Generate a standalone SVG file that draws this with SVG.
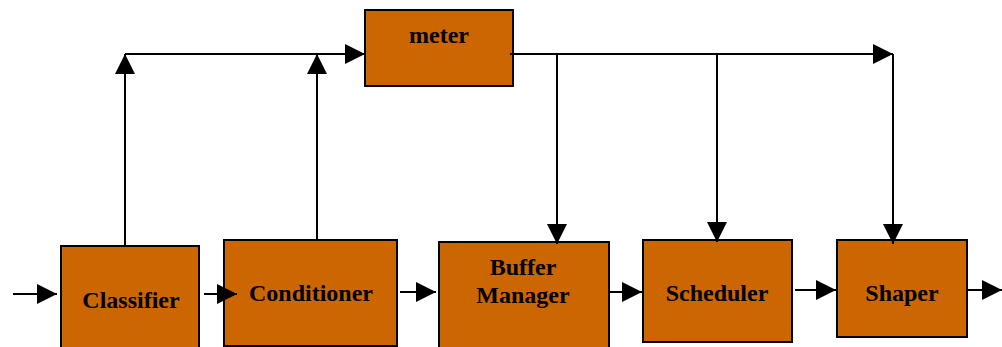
<svg xmlns="http://www.w3.org/2000/svg" width="1002" height="347" viewBox="0 0 1002 347">
  <style>
    .box { fill: #CC6600; stroke: #000000; stroke-width: 2; }
    .lbl { font-family: "Liberation Serif", "Times New Roman", serif; font-weight: bold; font-size: 24px; fill: #000000; text-anchor: middle; }
    .wire { fill: none; stroke: #000000; stroke-width: 2; }
  </style>
  <defs>
    <marker id="arrow" markerUnits="userSpaceOnUse" markerWidth="20" markerHeight="20" refX="20" refY="10" orient="auto">
      <path d="M0,0 L20,10 L0,20 Z" fill="#000000"/>
    </marker>
  </defs>

  <!-- processing blocks -->
  <g id="meter">
    <rect class="box" x="365" y="10" width="148" height="76"/>
    <text class="lbl" x="439" y="43">meter</text>
  </g>
  <g id="classifier">
    <rect class="box" x="61" y="246" width="138" height="106"/>
    <text class="lbl" x="131" y="308">Classifier</text>
  </g>
  <g id="conditioner">
    <rect class="box" x="224" y="240" width="173" height="106"/>
    <text class="lbl" x="311" y="301">Conditioner</text>
  </g>
  <g id="buffer-manager">
    <rect class="box" x="439" y="242" width="170" height="110"/>
    <text class="lbl" x="523" y="275">Buffer</text>
    <text class="lbl" x="523" y="303">Manager</text>
  </g>
  <g id="scheduler">
    <rect class="box" x="643" y="240" width="149" height="102"/>
    <text class="lbl" x="717" y="301">Scheduler</text>
  </g>
  <g id="shaper">
    <rect class="box" x="837" y="240" width="130" height="97"/>
    <text class="lbl" x="902" y="301">Shaper</text>
  </g>

  <!-- connectors -->
  <g id="connectors">
    <!-- main data path -->
    <line class="wire" x1="13" y1="294" x2="57" y2="294" marker-end="url(#arrow)"/>
    <line class="wire" x1="204" y1="294" x2="237" y2="294" marker-end="url(#arrow)"/>
    <line class="wire" x1="400" y1="292" x2="436" y2="292" marker-end="url(#arrow)"/>
    <line class="wire" x1="609" y1="292" x2="642" y2="292" marker-end="url(#arrow)"/>
    <line class="wire" x1="795" y1="290" x2="836" y2="290" marker-end="url(#arrow)"/>
    <line class="wire" x1="967" y1="290" x2="1002" y2="290" marker-end="url(#arrow)"/>

    <!-- feeds into meter -->
    <line class="wire" x1="125" y1="246" x2="125" y2="54" marker-end="url(#arrow)"/>
    <line class="wire" x1="317" y1="240" x2="317" y2="54" marker-end="url(#arrow)"/>
    <line class="wire" x1="125" y1="54" x2="365" y2="54" marker-end="url(#arrow)"/>

    <!-- meter outputs -->
    <line class="wire" x1="510" y1="54" x2="893" y2="54" marker-end="url(#arrow)"/>
    <line class="wire" x1="557" y1="54" x2="557" y2="244" marker-end="url(#arrow)"/>
    <line class="wire" x1="717" y1="54" x2="717" y2="242" marker-end="url(#arrow)"/>
    <line class="wire" x1="893" y1="54" x2="893" y2="244" marker-end="url(#arrow)"/>
  </g>
</svg>
